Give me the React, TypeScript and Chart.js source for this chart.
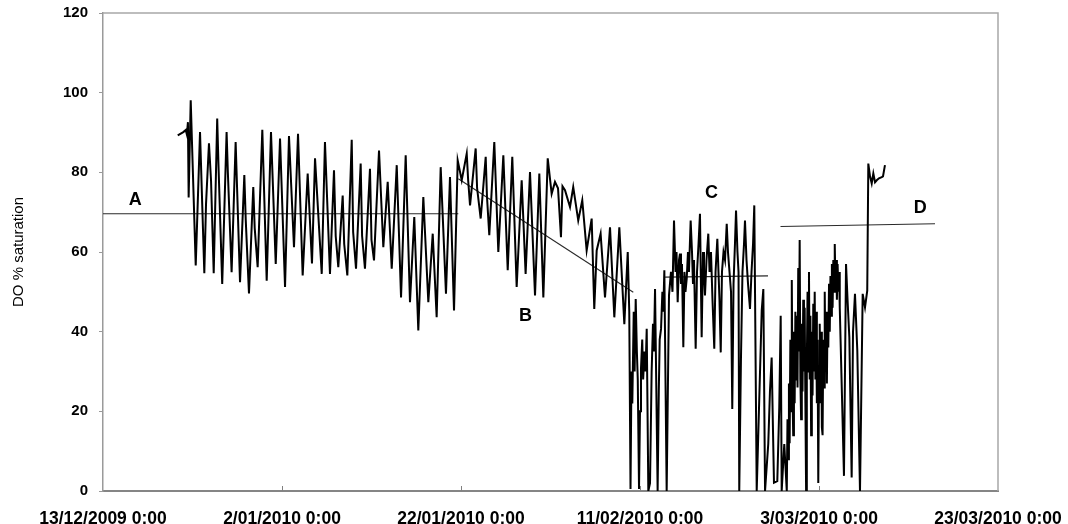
import React, { useEffect, useRef } from "react";
import { Chart, registerables } from "chart.js";

Chart.register(...registerables);

// X axis tick labels (every 20 days from 13/12/2009)
const tickLabels = [
  "13/12/2009 0:00",
  "2/01/2010 0:00",
  "22/01/2010 0:00",
  "11/02/2010 0:00",
  "3/03/2010 0:00",
  "23/03/2010 0:00",
];

// DO % saturation readings: [days since 13/12/2009 0:00, value]
const periodAReadings: [number, number][] = [
  [8.35, 89.3], [8.97, 90.1], [9.24, 90.6], [9.37, 89.5], [9.49, 92.6], [9.57, 73.7], [9.8, 98.1],
  [10.36, 56.6], [10.84, 90.1], [11.32, 54.7], [11.51, 72], [11.84, 87.3], [12.07, 78], [12.37, 54.7],
  [12.76, 93.5], [12.9, 82], [13.32, 52], [13.81, 90.1], [13.95, 80], [14.37, 54.9], [14.82, 87.6],
  [15.31, 52.4], [15.79, 79.3], [15.95, 68], [16.31, 49.6], [16.79, 76.3], [16.95, 66], [17.28, 56.2],
  [17.8, 90.7], [18.29, 52.8], [18.77, 90.1], [19.3, 57],
  [19.78, 88.5], [20.34, 51.2], [20.78, 89.1], [21.34, 61.2], [21.79, 89.7], [22.31, 54.1], [22.87, 79.7],
  [23.35, 57.1], [23.69, 83.5], [24.44, 54.5], [24.8, 87.6], [25.36, 54.5], [25.81, 80.5], [26.0, 64],
  [26.29, 56.2], [26.78, 74.2], [26.95, 62], [27.3, 54.1], [27.79, 88.2], [27.95, 65], [28.27, 55.8],
  [28.79, 82.2], [28.95, 64], [29.27, 55.8], [29.83, 80.9], [30.0, 63],
  [30.28, 57.9], [30.84, 85.5], [31.32, 61.2], [31.81, 77.6], [32.26, 55.8], [32.82, 81.8], [33.3, 48.6],
  [33.82, 84.3], [34.3, 47.4], [34.78, 68.8], [35.23, 40.3], [35.79, 73.8], [36.35, 47.4], [36.84, 64.6],
  [37.28, 43.6], [37.73, 81.3], [38.32, 49.5], [38.77, 78.8], [39.22, 45.3],
];
const periodBReadings: [number, number][] = [
  [39.63, 83], [40.08, 78], [40.64, 84.7], [40.8, 78], [41.01, 71.7], [41.64, 86], [41.8, 76],
  [42.2, 68.4], [42.76, 83.9], [42.9, 74],
  [43.16, 64.2], [43.72, 87.6], [44.17, 60], [44.73, 84.3], [45.22, 55.4], [45.73, 83.9], [46.22, 51.2],
  [46.78, 78], [47.22, 54.5], [47.71, 80.1], [48.27, 49.1], [48.75, 79.7], [49.2, 48.6], [49.69, 83.5],
  [50.13, 74.6], [50.5, 77.6], [50.84, 76], [51.17, 63.7], [51.34, 76.5], [51.62, 75.5], [52.18, 71.3],
  [52.54, 76.3], [53.1, 67.9], [53.55, 73], [54.04, 60.4], [54.6, 68.4], [54.89, 45.7], [55.16, 60.4],
  [55.6, 64.6], [56.09, 48.6], [56.65, 66.2], [57.13, 43.6], [57.69, 66.2], [58.25, 41.9], [58.63, 60],
  [58.8, 45], [58.94, 0.5], [59.05, 30], [59.14, 22], [59.3, 45], [59.4, 30], [59.52, 48.2], [59.65, 35],
  [59.75, 28], [59.89, 0.5], [60.0, 20], [60.11, 30.7], [60.25, 38], [60.35, 28], [60.5, 35], [60.62, 30],
  [60.75, 40.7], [60.93, 0], [61.12, 2], [61.3, 30], [61.45, 42], [61.55, 35], [61.68, 50.7], [61.97, 0],
  [62.1, 25], [62.2, 38], [62.35, 40.7], [62.5, 50], [62.6, 45],
];
const periodCReadings: [number, number][] = [
  [62.72, 55.4], [62.98, 0], [63.24, 49.1], [63.46, 55], [63.63, 50], [63.8, 67.9], [63.97, 55],
  [64.08, 60], [64.21, 47.4], [64.36, 58], [64.47, 59.6], [64.58, 52], [64.69, 57], [64.84, 36.1],
  [64.97, 55], [65.08, 50], [65.22, 53.3], [65.36, 60], [65.47, 55], [65.66, 67.9], [65.81, 60],
  [65.92, 52], [66.03, 58], [66.22, 35.7], [66.37, 55], [66.54, 62], [66.7, 69.6], [66.89, 38.6],
  [67.04, 60], [67.15, 55], [67.26, 49.1], [67.43, 58], [67.63, 64.6], [67.77, 55], [67.93, 60],
  [68.1, 48], [68.3, 35.7], [68.44, 55], [68.64, 63.3], [68.77, 55], [68.88, 48], [69.02, 34.8],
  [69.16, 55], [69.33, 60], [69.5, 58], [69.69, 67.1], [69.83, 60], [70.0, 55], [70.17, 50],
  [70.31, 20.6], [70.45, 52], [70.61, 62], [70.73, 70.4], [70.89, 60], [71.01, 55], [71.09, 0],
  [71.28, 33.1], [71.45, 55], [71.62, 62], [71.73, 67.9], [71.9, 58], [72.07, 52], [72.29, 45.7],
  [72.46, 55], [72.63, 62], [72.77, 71.7], [73.04, 0], [73.6, 45.3], [73.78, 50.7], [73.97, 0],
  [74.33, 11.8], [74.52, 25], [74.71, 33.5], [74.86, 15], [74.97, 2.1], [75.34, 2.5], [75.56, 21],
  [75.72, 44], [75.83, 0], [76.12, 11.8],
];
const periodDReadings: [number, number][] = [
  [76.4, 0], [76.48, 18], [76.56, 8], [76.64, 27], [76.72, 12], [76.8, 38], [76.88, 20], [76.96, 53],
  [77.04, 24], [77.12, 14], [77.2, 40], [77.28, 22], [77.36, 45], [77.44, 28], [77.52, 44], [77.6, 26],
  [77.68, 56], [77.76, 35], [77.84, 63], [77.92, 28], [78.0, 18], [78.08, 42], [78.16, 25], [78.24, 48],
  [78.32, 30], [78.4, 46], [78.48, 22], [78.56, 0], [78.64, 32], [78.72, 50], [78.8, 30], [78.88, 55],
  [78.96, 28], [79.04, 44], [79.12, 14], [79.2, 40], [79.28, 24], [79.36, 47], [79.44, 30], [79.52, 50],
  [79.6, 28], [79.68, 45], [79.76, 22], [79.84, 38], [79.92, 2], [80.0, 30], [80.08, 42], [80.16, 22],
  [80.24, 40], [80.32, 16], [80.4, 14], [80.48, 38], [80.56, 26], [80.64, 50], [80.72, 32], [80.8, 45],
  [80.88, 27], [80.96, 44], [81.04, 36], [81.12, 52], [81.2, 40], [81.28, 54], [81.36, 44], [81.44, 57],
  [81.52, 46], [81.6, 58], [81.68, 50], [81.76, 62], [81.84, 52], [81.92, 58], [82.0, 48], [82.08, 57],
  [82.16, 50], [82.24, 55], [82.32, 46], [82.79, 3.8], [83.02, 57], [83.19, 48], [83.39, 38.6],
  [83.65, 3.4], [83.8, 40], [84.02, 49.5], [84.28, 35.2], [84.58, 0], [84.88, 49.5], [85.14, 46.1],
  [85.39, 50.3], [85.51, 82.2], [85.7, 79], [85.89, 77.2], [86.07, 79.7], [86.26, 77.5], [86.45, 78],
  [86.7, 78.5], [87.01, 78.8], [87.15, 79], [87.37, 81.8],
];

// Trend lines A-D: [day, value] end points
const trendA: [number, number][] = [[0, 69.6], [39.7, 69.6]];
const trendB: [number, number][] = [[39.7, 78.4], [59.25, 49.9]];
const trendC: [number, number][] = [[62.8, 53.7], [74.3, 54.0]];
const trendD: [number, number][] = [[75.7, 66.4], [92.96, 67.1]];

// Period labels
const periodLabels = ["A", "B", "C", "D"];
const periodLabelDays = [3.6, 47.2, 68.0, 91.3];
const periodLabelValues = [73.0, 44.0, 74.7, 71.0];

const toPts = (rows: [number, number][]) => rows.map(([x, y]) => ({ x, y }));

const framePlugin = {
  id: "frame",
  afterDraw(chart: any) {
    const { ctx, chartArea } = chart;
    const xs = chart.scales.x;
    const ys = chart.scales.y;
    ctx.save();
    ctx.strokeStyle = "#a8a8a8";
    ctx.lineWidth = 1.5;
    ctx.beginPath();
    ctx.moveTo(chartArea.left, chartArea.top);
    ctx.lineTo(chartArea.right, chartArea.top);
    ctx.lineTo(chartArea.right, chartArea.bottom);
    ctx.stroke();
    ctx.strokeStyle = "#808080";
    ctx.lineWidth = 1;
    for (let i = 1; i < tickLabels.length - 1; i++) {
      const px = Math.round(xs.getPixelForValue(i * 20)) + 0.5;
      ctx.beginPath();
      ctx.moveTo(px, chartArea.bottom);
      ctx.lineTo(px, chartArea.bottom - 5);
      ctx.stroke();
    }
    ctx.fillStyle = "#000";
    ctx.font = "bold 18px 'Liberation Sans', Arial, sans-serif";
    ctx.textAlign = "center";
    ctx.textBaseline = "middle";
    periodLabels.forEach((t, i) => {
      ctx.fillText(t, xs.getPixelForValue(periodLabelDays[i]), ys.getPixelForValue(periodLabelValues[i]));
    });
    ctx.restore();
  },
};

export default function App() {
  const ref = useRef<HTMLCanvasElement | null>(null);
  useEffect(() => {
    if (!ref.current) return;
    Chart.defaults.font.family = "'Liberation Sans', Arial, sans-serif";
    const trendStyle = { borderColor: "#2a2a2a", borderWidth: 1.1, pointRadius: 0, fill: false };
    const series = [...periodAReadings, ...periodBReadings, ...periodCReadings, ...periodDReadings];
    const chart = new Chart(ref.current, {
      type: "line",
      data: {
        datasets: [
          {
            label: "DO",
            data: toPts(series),
            borderColor: "#000",
            borderWidth: 2,
            pointRadius: 0,
            tension: 0,
            fill: false,
          },
          { label: "A", data: toPts(trendA), ...trendStyle },
          { label: "B", data: toPts(trendB), ...trendStyle },
          { label: "C", data: toPts(trendC), ...trendStyle },
          { label: "D", data: toPts(trendD), ...trendStyle },
        ],
      },
      options: {
        animation: false,
        responsive: false,
        parsing: false,
        normalized: true,
        layout: { padding: { left: 0, right: 70, top: 13, bottom: 0 } },
        plugins: { legend: { display: false }, tooltip: { enabled: false } },
        scales: {
          x: {
            type: "linear",
            min: 0,
            max: 100,
            afterFit: (s: any) => {
              s.height = 33;
              s.paddingLeft = 0;
              s.paddingRight = 0;
            },
            afterBuildTicks: (s: any) => {
              s.ticks = tickLabels.map((_, i) => ({ value: i * 20 }));
            },
            ticks: {
              autoSkip: false,
              maxRotation: 0,
              padding: 9.5,
              color: "#000",
              font: { size: 17.5, weight: "bold" },
              callback: (v: any) => tickLabels[Math.round(Number(v) / 20)] ?? "",
            },
            grid: { display: false },
            border: { display: true, color: "#858585", width: 2 },
          },
          y: {
            min: 0,
            max: 120,
            afterFit: (s: any) => {
              s.width = 103;
              s.paddingTop = 0;
              s.paddingBottom = 0;
            },
            ticks: {
              stepSize: 20,
              padding: 11,
              color: "#000",
              font: { size: 15, weight: "bold" },
            },
            grid: { display: true, drawOnChartArea: false, drawTicks: true, tickLength: 4, color: "#999" },
            border: { display: true, color: "#9a9a9a", width: 1.5 },
            title: {
              display: true,
              text: "DO % saturation",
              color: "#000",
              font: { size: 15, weight: "normal" },
              padding: { top: 10, bottom: 0 },
            },
          },
        },
      },
      plugins: [framePlugin],
    });
    return () => chart.destroy();
  }, []);
  return (
    <div style={{ position: "fixed", left: 0, top: 0, width: 1068, height: 524, background: "#fff" }}>
      <canvas ref={ref} width={1068} height={524} style={{ display: "block" }} />
    </div>
  );
}
